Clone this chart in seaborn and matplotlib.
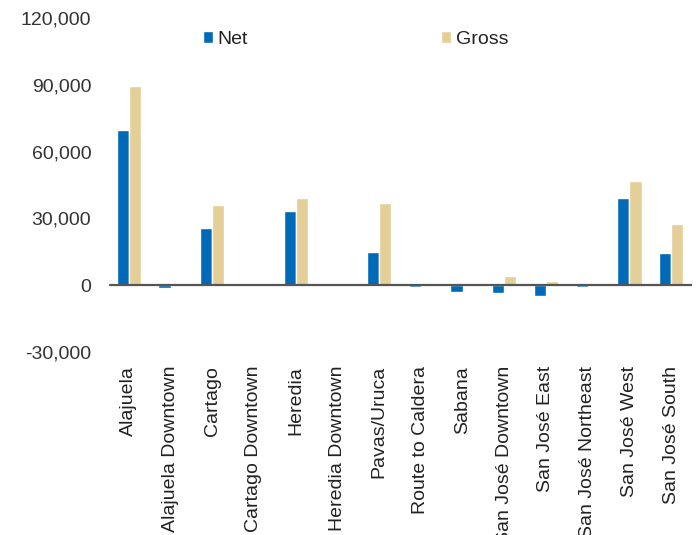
import matplotlib
matplotlib.use("Agg")
import matplotlib.pyplot as plt
import seaborn as sns
import pandas as pd

categories = ["Alajuela", "Alajuela Downtown", "Cartago", "Cartago Downtown", "Heredia",
              "Heredia Downtown", "Pavas/Uruca", "Route to Caldera", "Sabana",
              "San José Downtown", "San José East", "San José Northeast",
              "San José West", "San José South"]
net = [69800, -1300, 25500, 0, 33500, 0, 15000, -900, -3000, -3400, -4900, -900, 39000, 14300]
gross = [89500, 0, 35800, 0, 39300, 0, 36700, 0, 0, 4300, 2100, 1000, 47000, 27300]
series = ["Net", "Gross"]
colors = ["#006AB8", "#E5CF98"]
yticks = [-30000, 0, 30000, 60000, 90000, 120000]

df = pd.DataFrame({
    "Submarket": categories * 2,
    "Series": [series[0]] * len(categories) + [series[1]] * len(categories),
    "Value": net + gross,
})

sns.set_theme(style="white")
plt.rcParams["font.family"] = ["Liberation Sans", "DejaVu Sans"]

fig = plt.figure(figsize=(6.99, 5.35), dpi=100)
ax = fig.add_axes([108/699, 1-352/535, (692-108)/699, (352-18)/535])

sns.barplot(data=df, x="Submarket", y="Value", hue="Series", palette=colors,
            order=categories, hue_order=series, width=0.58, saturation=1,
            ax=ax, legend=True)

ax.set_ylim(-30000, 120000)
ax.set_xlim(-0.5, len(categories) - 0.5)
ax.set_yticks(yticks)
ax.set_yticklabels([f"{v:,}" for v in yticks], fontsize=14, color="#333333")
ax.set_xticks(range(len(categories)))
ax.set_xticklabels(categories, rotation=90, fontsize=14, color="#222222")
ax.tick_params(axis="x", pad=10, length=0)
ax.tick_params(axis="y", pad=12, length=0)
ax.set_xlabel("")
ax.set_ylabel("")
for s in ax.spines.values():
    s.set_visible(False)
ax.axhline(0, color="#555555", lw=1.6, xmin=0.003, xmax=1.0)

leg = ax.legend(ncol=2, loc="upper left", bbox_to_anchor=(0.149, 0.985), frameon=False,
                fontsize=14, handlelength=0.52, handleheight=0.57, handletextpad=0.25,
                columnspacing=9.9, borderaxespad=0)
for t in leg.get_texts():
    t.set_color("#222222")

fig.savefig("out.png", dpi=100)
